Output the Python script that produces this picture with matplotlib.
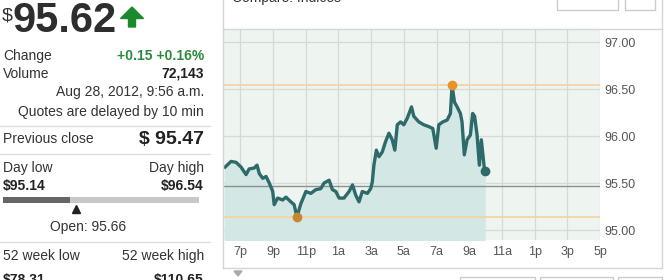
import matplotlib
matplotlib.use('Agg')
import matplotlib.pyplot as plt
from matplotlib.lines import Line2D
from matplotlib.patches import Polygon, Rectangle
import numpy as np

plt.rcParams['font.family'] = ['Liberation Sans', 'DejaVu Sans']

# Quote data
last = 95.62
change = '+0.15 +0.16%'
volume = '72,143'
stamp = 'Aug 28, 2012, 9:56 a.m.'
prev_close = 95.47
day_low = 95.14
day_high = 96.54
open_px = 95.66
wk52_low = '$78.31'
wk52_high = '$110.65'

# Intraday trace: hours after 6 p.m., price
hours = [0.07, 0.43, 0.74, 1.04, 1.35, 1.54, 1.85, 2.02, 2.16, 2.37, 2.57, 2.77,
         2.98, 3.07, 3.28, 3.59, 3.79, 4.09, 4.29, 4.46, 4.70, 5.01, 5.31, 5.62,
         5.92, 6.12, 6.43, 6.63, 6.84, 7.04, 7.34, 7.65, 7.86, 8.06, 8.26, 8.46,
         8.77, 8.97, 9.07, 9.17, 9.32, 9.48, 9.68, 9.88, 10.09, 10.29, 10.45,
         10.60, 10.80, 11.00, 11.21, 11.47, 11.61, 11.92, 12.22, 12.53, 12.77,
         12.98, 13.14, 13.38, 13.65, 13.85, 13.95, 14.10, 14.26, 14.46, 14.56,
         14.70, 14.87, 15.07, 15.21, 15.33, 15.48, 15.62, 15.74, 15.94]
price = [95.67, 95.73, 95.72, 95.67, 95.59, 95.65, 95.66, 95.69, 95.60, 95.55,
         95.57, 95.50, 95.41, 95.27, 95.34, 95.32, 95.35, 95.30, 95.27, 95.14,
         95.28, 95.41, 95.39, 95.43, 95.44, 95.50, 95.53, 95.43, 95.41, 95.34,
         95.34, 95.41, 95.48, 95.37, 95.30, 95.41, 95.39, 95.44, 95.51, 95.69,
         95.85, 95.78, 95.83, 95.94, 96.03, 95.96, 95.85, 96.12, 96.15, 96.12,
         96.19, 96.31, 96.21, 96.15, 96.12, 96.10, 96.08, 95.87, 96.12, 96.15,
         96.17, 96.24, 96.54, 96.36, 96.31, 96.24, 96.15, 95.80, 95.96, 96.01,
         96.24, 96.21, 96.01, 95.69, 95.96, 95.63]

tick_pos = [1, 3, 5, 7, 9, 11, 13, 15, 17, 19, 21, 23]
tick_lab = ['7p', '9p', '11p', '1a', '3a', '5a', '7a', '9a', '11a', '1p', '3p', '5p']
y_ticks = [95.0, 95.5, 96.0, 96.5, 97.0]

W, H = 667, 280
fig = plt.figure(figsize=(W / 100, H / 100), dpi=100)


def fx(x):
    return x / W


def fy(y):
    return 1 - y / H


def txt(x, y, s, **kw):
    kw.setdefault('color', '#333333')
    kw.setdefault('fontsize', 10)
    kw.setdefault('va', 'baseline')
    fig.text(fx(x), fy(y), s, transform=fig.transFigure, **kw)


def hline(x0, x1, y, c='#dddddd', lw=1):
    fig.add_artist(Line2D([fx(x0), fx(x1)], [fy(y), fy(y)], color=c, lw=lw,
                          transform=fig.transFigure))


def vline(x, y0, y1, c='#d5d5d5', lw=1):
    fig.add_artist(Line2D([fx(x), fx(x)], [fy(y0), fy(y1)], color=c, lw=lw,
                          transform=fig.transFigure))


# ---- left quote panel ----
txt(2, 21, '$', fontsize=14)
txt(13, 32, '%.2f' % last, fontsize=30, fontweight='bold', color='#2e2e2e')
arrow = [(132, 7), (143.5, 18.5), (135.5, 18.5), (135.5, 27), (128.5, 27),
         (128.5, 18.5), (120.5, 18.5)]
fig.add_artist(Polygon([(fx(a), fy(b)) for a, b in arrow], closed=True,
                       color='#1b8a2e', transform=fig.transFigure))

txt(3, 60, 'Change')
txt(204, 60, change, ha='right', fontweight='bold', color='#2b8a3e')
txt(3, 78, 'Volume')
txt(204, 78, volume, ha='right', fontweight='bold', color='#222222')
txt(204, 96, stamp, ha='right')
txt(204, 116, 'Quotes are delayed by 10 min', ha='right')
hline(0, 210, 126)

txt(3, 143, 'Previous close')
txt(204, 144, '$ %.2f' % prev_close, ha='right', fontweight='bold', fontsize=14,
    color='#222222')
hline(0, 210, 154)

txt(3, 172, 'Day low')
txt(204, 172, 'Day high', ha='right')
txt(3, 190, '$%.2f' % day_low, fontweight='bold', color='#222222')
txt(204, 190, '$%.2f' % day_high, ha='right', fontweight='bold', color='#222222')

# day range bar
bar = fig.add_axes([fx(3), fy(212), 196 / W, 15 / H])
bar.set_xlim(day_low, day_high)
bar.set_ylim(0, 15)
bar.barh(12, day_high - day_low, height=6, left=day_low, color='#c8c8c8')
bar.barh(12, last - day_low, height=6, left=day_low, color='#666666')
bar.plot([open_px], [3.5], marker='^', ms=6, color='#222222', clip_on=False)
bar.axis('off')

txt(88, 231, 'Open: %.2f' % open_px, ha='center')
hline(0, 210, 242)
txt(3, 260, '52 week low')
txt(204, 260, '52 week high', ha='right')
txt(3, 284, wk52_low, fontweight='bold', color='#222222')
txt(204, 284, wk52_high, ha='right', fontweight='bold', color='#222222')

# ---- chart panel frame ----
txt(232, 2, 'Compare: Indices', fontsize=10)
vline(223, 0, 268)
vline(662, 0, 268)
hline(223, 662, 29, c='#d5d5d5')
hline(223, 662, 268, c='#d5d5d5')
for x0, x1 in [(557, 618), (625, 655)]:
    fig.add_artist(Rectangle((fx(x0), fy(10)), (x1 - x0) / W, 12 / H, fill=False,
                             ec='#cccccc', lw=1, transform=fig.transFigure))
for x0, x1 in [(460, 535), (540, 613), (618, 662)]:
    fig.add_artist(Rectangle((fx(x0), fy(290)), (x1 - x0) / W, 13 / H, fill=False,
                             ec='#cccccc', lw=1, transform=fig.transFigure))
tri = [(234, 271), (242, 271), (238, 276)]
fig.add_artist(Polygon([(fx(a), fy(b)) for a, b in tri], closed=True,
                       color='#aaaaaa', transform=fig.transFigure))

# ---- price chart ----
ax = fig.add_axes([fx(224), fy(240), 376 / W, 210 / H])
ymin, ymax = 94.894, 97.128
ax.set_facecolor('#eef5f1')
ax.set_xlim(0, 23)
ax.set_ylim(ymin, ymax)
for sp in ax.spines.values():
    sp.set_visible(False)

ax.set_xticks(tick_pos, tick_lab)
ax.set_yticks(y_ticks, ['%.2f' % v for v in y_ticks])
ax.yaxis.tick_right()
ax.tick_params(axis='both', length=0, labelsize=9, labelcolor='#555555')
ax.tick_params(axis='x', pad=4)
ax.tick_params(axis='y', pad=3)
ax.grid(True, color='#d3dbd6', lw=0.9)
ax.set_axisbelow(True)

ax.fill_between(hours, price, ymin, color='#d3e8e5', zorder=2)
ax.axhline(day_high, color='#f3d5a0', lw=1.3, zorder=3)
ax.axhline(day_low, color='#f3d5a0', lw=1.3, zorder=3)
ax.axhline(prev_close, color='#8a908d', lw=1, zorder=3)
ax.plot(hours, price, color='#2d6a69', lw=2.4, zorder=4, solid_joinstyle='round')

i_hi = int(np.argmax(price))
i_lo = int(np.argmin(price))
ax.plot([hours[i_hi]], [price[i_hi]], 'o', ms=6, color='#e8922a', zorder=5)
ax.plot([hours[i_lo]], [price[i_lo]], 'o', ms=6, color='#c8862f', zorder=5)
ax.plot([hours[-1]], [price[-1]], 'o', ms=6, color='#2d6a69', zorder=5)

fig.savefig('out.png', dpi=100)
